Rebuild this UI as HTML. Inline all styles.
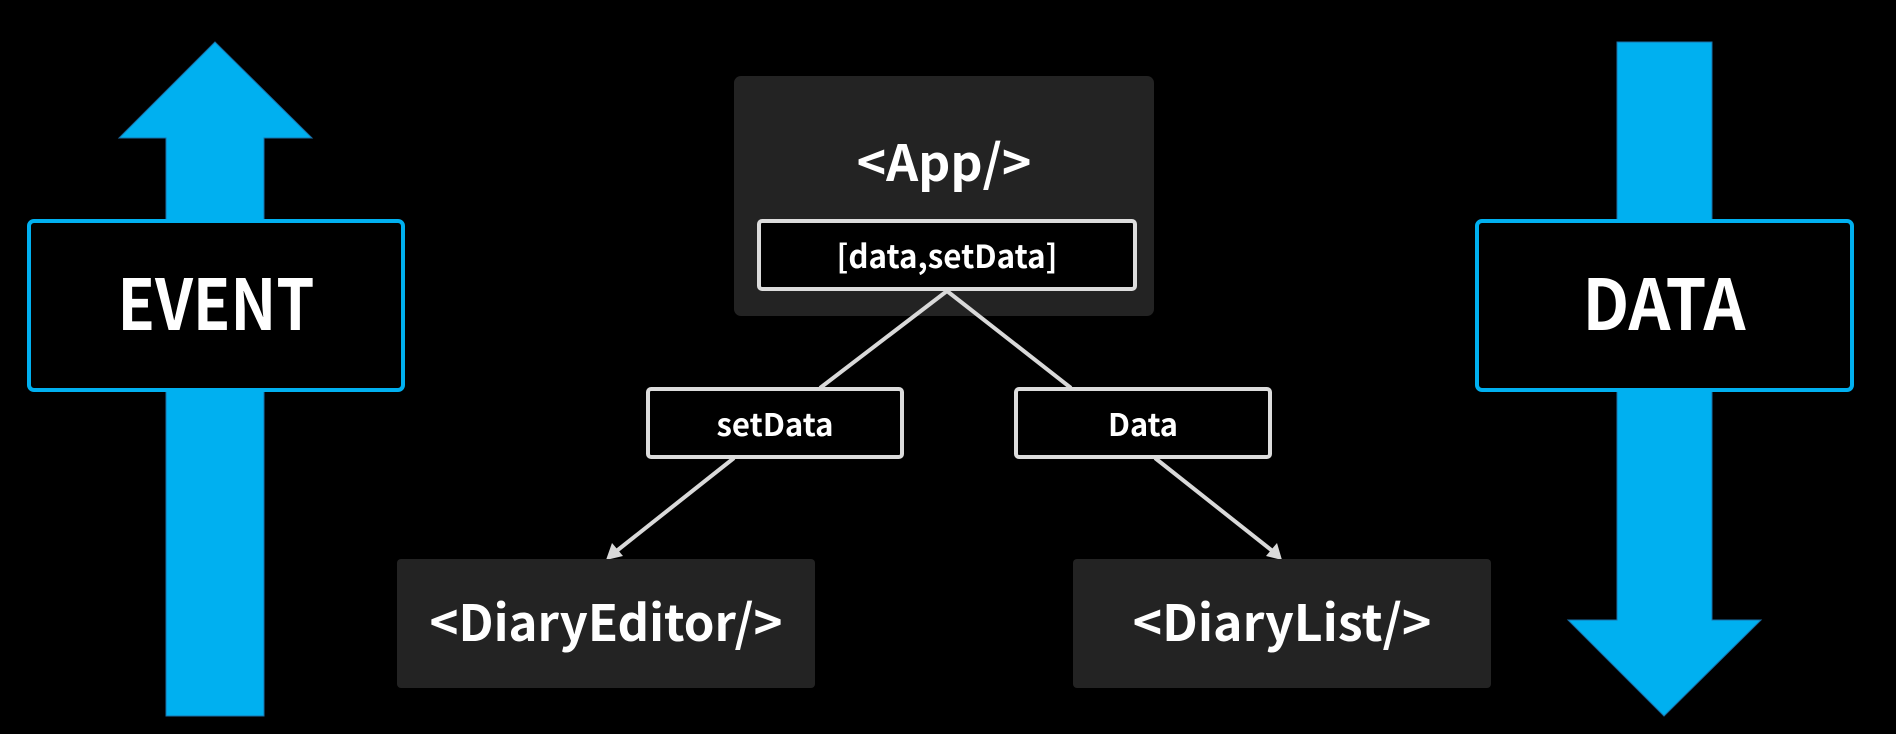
<!DOCTYPE html>
<html><head><meta charset="utf-8"><style>
html,body{margin:0;padding:0;background:#000;width:1896px;height:734px;overflow:hidden}
svg text{font-family:"Noto Sans CJK KR","Liberation Sans",sans-serif;font-weight:700;fill:#fff}
</style></head><body>
<svg width="1896" height="734" viewBox="0 0 1896 734" xmlns="http://www.w3.org/2000/svg">
<rect width="1896" height="734" fill="#000"/>
<!-- left up arrow -->
<polygon points="215,42 312,138 264,138 264,716 166,716 166,138 119,138" fill="#00b0f0" stroke="#1a6fa8" stroke-width="1"/>
<rect x="29" y="221" width="374" height="169" rx="5" fill="#000" stroke="#00b0f0" stroke-width="4"/>
<text x="216" y="330" font-size="70" text-anchor="middle" textLength="197" lengthAdjust="spacingAndGlyphs">EVENT</text>
<!-- right down arrow -->
<polygon points="1617,42 1712,42 1712,620 1761,620 1664,716 1568,620 1617,620" fill="#00b0f0" stroke="#1a6fa8" stroke-width="1"/>
<rect x="1477" y="221" width="375" height="169" rx="5" fill="#000" stroke="#00b0f0" stroke-width="4"/>
<text x="1664" y="330" font-size="70" text-anchor="middle" textLength="163" lengthAdjust="spacingAndGlyphs">DATA</text>
<!-- App -->
<rect x="734" y="76" width="420" height="240" rx="7" fill="#232323"/>
<text x="944" y="181" font-size="50" text-anchor="middle">&lt;App/&gt;</text>
<rect x="759" y="221" width="376" height="68" rx="3" fill="#000" stroke="#dcdcdc" stroke-width="4"/>
<text x="947" y="268" font-size="32" text-anchor="middle" textLength="221" lengthAdjust="spacingAndGlyphs">[data,setData]</text>
<!-- connectors -->
<g stroke="#d9d9d9" stroke-width="4" fill="none">
<line x1="947" y1="291" x2="820" y2="388"/>
<line x1="947" y1="291" x2="1071" y2="388"/>
<line x1="734" y1="458" x2="614" y2="553"/>
<line x1="1155" y1="458" x2="1275" y2="553"/>
</g>
<polygon points="606,560 612,543 623,556" fill="#d9d9d9"/>
<polygon points="1282,560 1266,556 1277,543" fill="#d9d9d9"/>
<rect x="648" y="389" width="254" height="68" rx="3" fill="#000" stroke="#dcdcdc" stroke-width="4"/>
<text x="775" y="436" font-size="31" text-anchor="middle" textLength="117" lengthAdjust="spacingAndGlyphs">setData</text>
<rect x="1016" y="389" width="254" height="68" rx="3" fill="#000" stroke="#dcdcdc" stroke-width="4"/>
<text x="1143" y="436" font-size="31" text-anchor="middle" textLength="70" lengthAdjust="spacingAndGlyphs">Data</text>
<!-- children -->
<rect x="397" y="559" width="418" height="129" rx="4" fill="#232323"/>
<text x="606" y="641" font-size="50" text-anchor="middle" textLength="353" lengthAdjust="spacingAndGlyphs">&lt;DiaryEditor/&gt;</text>
<rect x="1073" y="559" width="418" height="129" rx="4" fill="#232323"/>
<text x="1282" y="641" font-size="50" text-anchor="middle">&lt;DiaryList/&gt;</text>
</svg>
</body></html>
